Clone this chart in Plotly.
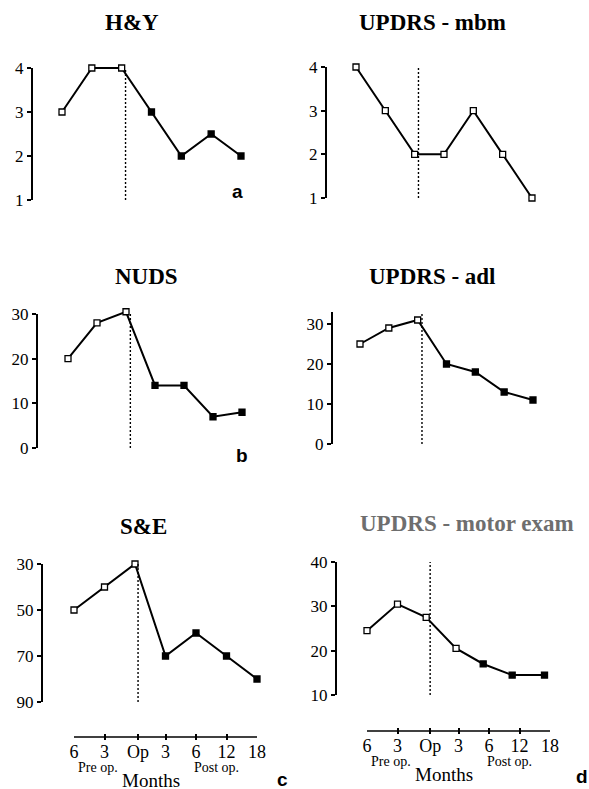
import plotly.graph_objects as go

W, H = 589, 789

# ---- data -------------------------------------------------------------
MONTH_LABELS = ["6", "3", "Op", "3", "6", "12", "18"]
X_VISITS = [0, 1, 2, 3, 4, 5, 6]
X_VISITS_MOTOR = [0, 1, 1.94, 2.92, 3.81, 4.76, 5.82]

HY = [3, 4, 4, 3, 2, 2.5, 2]
MBM = [4, 3, 2, 2, 3, 2, 1]
NUDS = [20, 28, 30.5, 14, 14, 7, 8]
ADL = [25, 29, 31, 20, 18, 13, 11]
SE = [50, 40, 30, 70, 60, 70, 80]
MOTOR = [24.5, 30.5, 27.5, 20.5, 17, 14.5, 14.5]

# number of leading open (white) markers in each series
OPEN_HY, OPEN_MBM, OPEN_NUDS, OPEN_ADL, OPEN_SE, OPEN_MOTOR = 3, 7, 3, 3, 3, 4

TICKS_HY = [1, 2, 3, 4]
TICKS_MBM = [1, 2, 3, 4]
TICKS_NUDS = [0, 10, 20, 30]
TICKS_ADL = [0, 10, 20, 30]
TICKS_SE = [30, 50, 70, 90]
TICKS_MOTOR = [10, 20, 30, 40]

# ---- panel geometry (pixels) -----------------------------------------
panels = [
    dict(title="H&Y", x=X_VISITS, y=HY, n_open=OPEN_HY, ticks=TICKS_HY,
         axis_px=33, ymap=((4, 68), (1, 200)), yline=(1, 4),
         x0=62, dx=29.83, op=2.13, xaxis_py=None,
         title_xy=(132, 23), title_color="black", letter="a", letter_xy=(237, 192)),
    dict(title="UPDRS - mbm", x=X_VISITS, y=MBM, n_open=OPEN_MBM, ticks=TICKS_MBM,
         axis_px=327, ymap=((4, 67), (1, 198)), yline=(1, 4),
         x0=356, dx=29.33, op=2.13, xaxis_py=None,
         title_xy=(432, 23), title_color="black", letter=None, letter_xy=None),
    dict(title="NUDS", x=X_VISITS, y=NUDS, n_open=OPEN_NUDS, ticks=TICKS_NUDS,
         axis_px=38, ymap=((30, 314), (0, 448)), yline=(0, 30),
         x0=68, dx=29.0, op=2.15, xaxis_py=None,
         title_xy=(146, 277), title_color="black", letter="b", letter_xy=(242, 455)),
    dict(title="UPDRS - adl", x=X_VISITS, y=ADL, n_open=OPEN_ADL, ticks=TICKS_ADL,
         axis_px=333, ymap=((30, 324), (0, 444)), yline=(0, 33),
         x0=360, dx=28.83, op=2.15, xaxis_py=None,
         title_xy=(432, 277), title_color="black", letter=None, letter_xy=None),
    dict(title="S&E", x=X_VISITS, y=SE, n_open=OPEN_SE, ticks=TICKS_SE,
         axis_px=43, ymap=((30, 564), (90, 702)), yline=(90, 30),
         x0=74, dx=30.5, op=2.1, xaxis_py=737,
         title_xy=(143, 526), title_color="black", letter="c", letter_xy=(282, 779)),
    dict(title="UPDRS - motor exam", x=X_VISITS_MOTOR, y=MOTOR, n_open=OPEN_MOTOR, ticks=TICKS_MOTOR,
         axis_px=337, ymap=((40, 562), (10, 695)), yline=(10, 40),
         x0=367, dx=30.5, op=2.07, xaxis_py=731,
         title_xy=(467, 523), title_color="#6e6e6e", letter="d", letter_xy=(582, 776)),
]

SERIF = "Liberation Serif"
SANS = "Liberation Sans"
TICK_HALF = 3          # month-axis ticks reach this far above and below the rule

fig = go.Figure()
layout = {}
annotations = []
counter = [0]


def new_id():
    counter[0] += 1
    n = counter[0]
    return ("x" if n == 1 else f"x{n}"), ("y" if n == 1 else f"y{n}"), \
           ("xaxis" if n == 1 else f"xaxis{n}"), ("yaxis" if n == 1 else f"yaxis{n}")


def px_to_fx(px):
    return px / W


def py_to_fy(py):
    return 1 - py / H


for p in panels:
    (v0, p0), (v1, p1) = p["ymap"]
    slope = (p1 - p0) / (v1 - v0)          # pixels per unit

    def v_of(py, v0=v0, p0=p0, slope=slope):
        return v0 + (py - p0) / slope

    def py_of(v, v0=v0, p0=p0, slope=slope):
        return p0 + (v - v0) * slope

    # data subplot (hidden axes, padded so nothing gets clipped)
    xr, yr, xk, yk = new_id()
    L = p["axis_px"]
    R = p["x0"] + 6.7 * p["dx"]
    T = min(p0, p1) - 16
    B = max(p0, p1) + 16
    layout[xk] = dict(domain=[px_to_fx(L), px_to_fx(R)],
                      range=[(L - p["x0"]) / p["dx"], (R - p["x0"]) / p["dx"]],
                      visible=False, anchor=yr, fixedrange=True, automargin=False)
    layout[yk] = dict(domain=[py_to_fy(B), py_to_fy(T)],
                      range=[v_of(B), v_of(T)],
                      visible=False, anchor=xr, fixedrange=True, automargin=False)

    # visible y axis sharing the data x axis; its line spans the labelled range
    _, yr2, _, yk2 = new_id()
    lo, hi = p["yline"]
    ya, yb = py_of(lo), py_of(hi)
    layout[yk2] = dict(domain=[py_to_fy(max(ya, yb)), py_to_fy(min(ya, yb))],
                       range=[lo, hi], anchor=xr, side="left", showline=True,
                       linecolor="black", linewidth=2, ticks="outside", ticklen=4,
                       tickwidth=1.5, tickcolor="black", tickvals=p["ticks"],
                       ticktext=[str(t) for t in p["ticks"]],
                       tickfont=dict(family=SERIF, size=17, color="black"),
                       showgrid=False, zeroline=False, fixedrange=True,
                       automargin=False)

    # dotted line marking the operation, drawn against the visible y axis
    fig.add_trace(go.Scatter(
        x=[p["op"], p["op"]], y=[lo, hi], xaxis=xr, yaxis=yr2, mode="lines",
        line=dict(color="black", width=1.4, dash="2px,2px"),
        hoverinfo="skip", showlegend=False))

    n = len(p["y"])
    colors = ["white"] * p["n_open"] + ["black"] * (n - p["n_open"])
    fig.add_trace(go.Scatter(
        x=p["x"], y=p["y"], xaxis=xr, yaxis=yr, mode="lines+markers",
        line=dict(color="black", width=2),
        marker=dict(symbol="square", size=6, color=colors,
                    line=dict(color="black", width=1.3)),
        cliponaxis=False, hoverinfo="skip", showlegend=False))

    # month axis below the lower panels: a thin strip with the rule through
    # its middle; inside ticks span the strip, so they cross the rule
    if p["xaxis_py"] is not None:
        xr3, yr3, xk3, yk3 = new_id()
        tick_pos = [0, 1, p["op"], 3, 4, 5, 6]
        yc = p["xaxis_py"]
        layout[yk3] = dict(domain=[py_to_fy(yc + TICK_HALF), py_to_fy(yc - TICK_HALF)],
                           anchor=xr3, range=[-1, 1], visible=False,
                           fixedrange=True, automargin=False)
        layout[xk3] = dict(domain=[px_to_fx(p["x0"]), px_to_fx(p["x0"] + 6 * p["dx"])],
                           range=[0, 6], anchor=yr3, showline=False,
                           ticks="inside", ticklen=2 * TICK_HALF, tickwidth=1.5,
                           tickcolor="black", ticklabelstandoff=-1,
                           tickvals=tick_pos, ticktext=MONTH_LABELS,
                           tickfont=dict(family=SERIF, size=18, color="black"),
                           showgrid=False, zeroline=False, fixedrange=True,
                           automargin=False)
        fig.add_trace(go.Scatter(
            x=[tick_pos[0], tick_pos[-1]], y=[0, 0], xaxis=xr3, yaxis=yr3,
            mode="lines", line=dict(color="black", width=1.6),
            hoverinfo="skip", showlegend=False))
        annotations += [
            dict(text="Pre op.", xref=xr3, yref="paper", x=0.8,
                 y=py_to_fy(yc + 30), showarrow=False, yanchor="middle",
                 font=dict(family=SERIF, size=14, color="black")),
            dict(text="Post op.", xref=xr3, yref="paper", x=4.68,
                 y=py_to_fy(yc + 30), showarrow=False, yanchor="middle",
                 font=dict(family=SERIF, size=14, color="black")),
            dict(text="Months", xref=xr3, yref="paper", x=2.52,
                 y=py_to_fy(yc + 43), showarrow=False, yanchor="middle",
                 font=dict(family=SERIF, size=19, color="black")),
        ]

    tx, ty = p["title_xy"]
    annotations.append(dict(text=f"<b>{p['title']}</b>", xref="paper", yref="paper",
                            x=px_to_fx(tx), y=py_to_fy(ty), showarrow=False,
                            xanchor="center", yanchor="middle",
                            font=dict(family=SERIF, size=23, color=p["title_color"])))
    if p["letter"]:
        lx, ly = p["letter_xy"]
        annotations.append(dict(text=f"<b>{p['letter']}</b>", xref="paper", yref="paper",
                                x=px_to_fx(lx), y=py_to_fy(ly), showarrow=False,
                                xanchor="center", yanchor="middle",
                                font=dict(family=SANS, size=19, color="black")))

fig.update_layout(
    width=W, height=H,
    margin=dict(l=0, r=0, t=0, b=0, pad=0),
    paper_bgcolor="white", plot_bgcolor="rgba(0,0,0,0)",
    showlegend=False,
    annotations=annotations,
    **layout,
)

fig.write_html("out.html")
